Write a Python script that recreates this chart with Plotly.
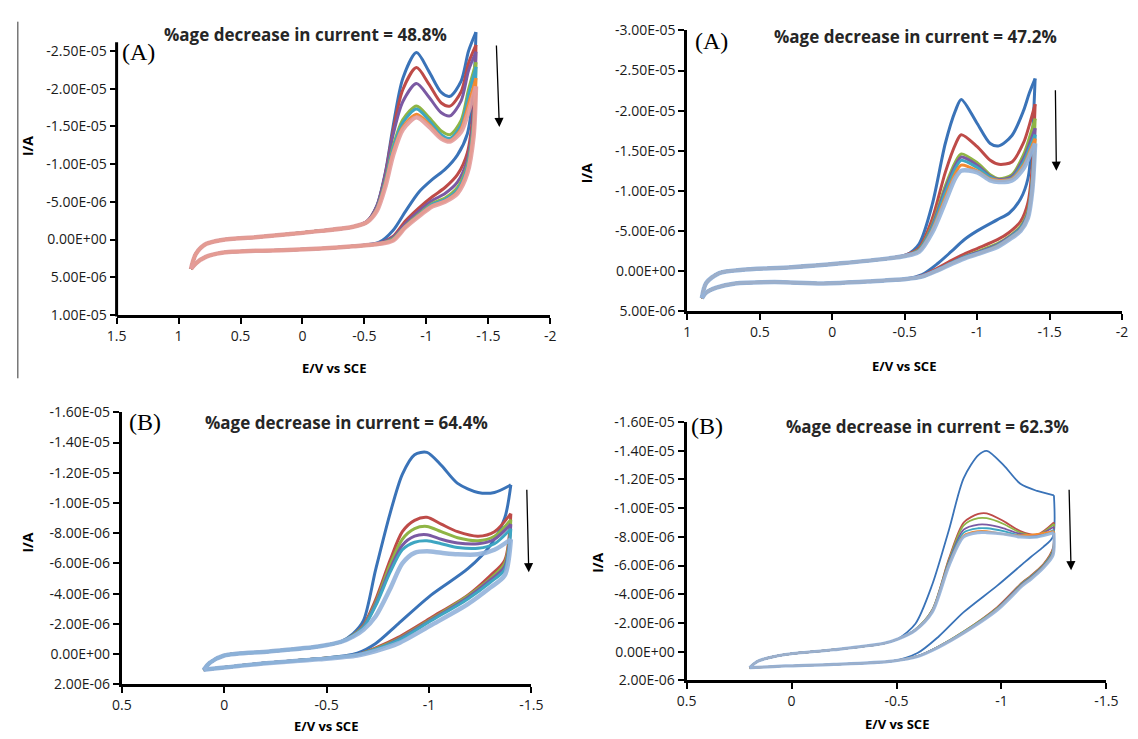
import plotly.graph_objects as go
import numpy as np

W, H = 1138, 739

# ----------------------------- DATA ---------------------------------
# potentials in V, currents in microamperes (negative = cathodic, drawn upward)

# Panel 1 (top-left)  cycles: blue, red, purple, green, aqua, orange, pink
P1_E_UP = [0.90, 0.86, 0.78, 0.65, 0.38, 0.12, -0.15, -0.41, -0.52, -0.60, -0.67, -0.73,
           -0.81, -0.92, -1.02, -1.12, -1.19, -1.28, -1.34, -1.40]
P1_I_UP = [
    [3.9, 1.9, 0.6, 0.05, -0.3, -0.7, -1.15, -1.7, -2.4, -4.5, -9.0, -14.9, -21.4, -24.8, -22.3, -19.5, -19.0, -21.0, -25.0, -27.5],
    [3.9, 1.9, 0.6, 0.05, -0.3, -0.7, -1.15, -1.7, -2.4, -4.4, -8.8, -14.3, -19.9, -22.8, -20.6, -18.1, -17.7, -19.6, -23.4, -25.8],
    [3.9, 1.9, 0.6, 0.05, -0.3, -0.7, -1.15, -1.7, -2.4, -4.4, -8.7, -13.8, -18.3, -20.7, -18.9, -16.8, -16.4, -18.4, -22.4, -24.9],
    [3.9, 1.9, 0.6, 0.05, -0.3, -0.7, -1.15, -1.7, -2.3, -4.1, -7.9, -12.3, -15.9, -17.7, -16.2, -14.4, -13.9, -15.8, -19.9, -23.5],
    [3.9, 1.9, 0.6, 0.05, -0.3, -0.7, -1.15, -1.7, -2.3, -4.0, -7.7, -12.0, -15.5, -17.3, -15.8, -13.9, -13.4, -15.2, -19.2, -22.9],
    [3.9, 1.9, 0.6, 0.05, -0.3, -0.7, -1.15, -1.7, -2.3, -3.9, -7.4, -11.5, -14.9, -16.6, -15.3, -13.5, -13.1, -14.7, -18.0, -21.4],
    [3.9, 1.9, 0.6, 0.05, -0.3, -0.7, -1.15, -1.7, -2.3, -3.8, -7.1, -11.1, -14.6, -16.2, -15.0, -13.4, -13.0, -14.3, -17.0, -20.3],
]
P1_E_DN = [-1.40, -1.38, -1.33, -1.25, -1.15, -1.05, -0.94, -0.83, -0.73, -0.62, -0.41, -0.15,
           0.12, 0.38, 0.65, 0.78, 0.86, 0.90]
P1_I_DN = [
    [-27.5, -20.0, -14.0, -11.2, -9.3, -8.0, -6.3, -3.7, -1.2, 0.35, 0.9, 1.2, 1.4, 1.5, 1.75, 2.3, 3.15, 3.9],
    [-25.8, -17.5, -11.5, -8.6, -6.9, -5.7, -4.2, -2.45, -0.4, 0.5, 0.9, 1.2, 1.4, 1.5, 1.75, 2.3, 3.15, 3.9],
    [-24.9, -16.5, -10.6, -7.6, -6.1, -5.2, -3.8, -2.1, -0.3, 0.5, 0.9, 1.2, 1.4, 1.5, 1.75, 2.3, 3.15, 3.9],
    [-23.5, -15.5, -9.9, -6.9, -5.5, -4.8, -3.4, -1.8, -0.1, 0.55, 0.9, 1.2, 1.4, 1.5, 1.75, 2.3, 3.15, 3.9],
    [-22.9, -15.0, -9.6, -6.6, -5.3, -4.7, -3.3, -1.7, 0.0, 0.55, 0.9, 1.2, 1.4, 1.5, 1.75, 2.3, 3.15, 3.9],
    [-21.4, -14.2, -9.1, -6.3, -5.1, -4.5, -3.2, -1.65, 0.1, 0.57, 0.9, 1.2, 1.4, 1.5, 1.75, 2.3, 3.15, 3.9],
    [-20.3, -13.6, -8.8, -6.1, -5.0, -4.4, -3.1, -1.6, 0.15, 0.57, 0.9, 1.2, 1.4, 1.5, 1.75, 2.3, 3.15, 3.9],
]

# Panel 2 (top-right)  cycles: blue, red, green, purple, aqua, orange, light blue
P2_E_UP = [0.90, 0.87, 0.78, 0.62, 0.28, -0.06, -0.39, -0.51, -0.60, -0.69, -0.78, -0.85,
           -0.89, -1.00, -1.09, -1.15, -1.24, -1.32, -1.36, -1.40]
P2_I_UP = [
    [3.4, 1.5, 0.26, -0.15, -0.47, -0.96, -1.57, -2.0, -3.4, -8.3, -15.9, -20.0, -21.4, -18.4, -15.9, -15.6, -16.9, -20.0, -22.2, -24.0],
    [3.4, 1.5, 0.26, -0.15, -0.47, -0.96, -1.57, -2.0, -2.9, -6.5, -12.3, -15.8, -17.0, -15.5, -13.8, -13.3, -13.6, -16.0, -18.2, -20.8],
    [3.4, 1.5, 0.26, -0.15, -0.47, -0.96, -1.57, -1.95, -2.7, -5.8, -10.6, -13.6, -14.6, -13.5, -12.0, -11.5, -12.0, -14.5, -16.6, -19.0],
    [3.4, 1.5, 0.26, -0.15, -0.47, -0.96, -1.57, -1.95, -2.6, -5.6, -10.2, -13.2, -14.2, -13.2, -11.8, -11.4, -11.8, -14.0, -15.8, -17.8],
    [3.4, 1.5, 0.26, -0.15, -0.47, -0.96, -1.57, -1.9, -2.6, -5.4, -9.8, -12.8, -13.8, -12.9, -11.7, -11.3, -11.6, -13.6, -15.3, -17.0],
    [3.4, 1.5, 0.26, -0.15, -0.47, -0.96, -1.57, -1.9, -2.5, -5.1, -9.2, -12.2, -13.2, -12.5, -11.5, -11.3, -11.5, -13.2, -14.8, -16.5],
    [3.4, 1.5, 0.26, -0.15, -0.47, -0.96, -1.57, -1.9, -2.4, -4.8, -8.6, -11.6, -12.5, -12.3, -11.3, -11.1, -11.3, -12.8, -14.3, -15.9],
]
P2_E_DN = [-1.40, -1.38, -1.35, -1.30, -1.22, -1.14, -1.00, -0.91, -0.82, -0.73, -0.62, -0.51,
           -0.28, 0.06, 0.40, 0.67, 0.80, 0.87, 0.90]
P2_I_DN = [
    [-24.0, -16.5, -11.5, -9.0, -7.2, -6.4, -5.0, -3.9, -2.4, -0.96, 0.46, 0.98, 1.27, 1.55, 1.39, 1.55, 2.08, 2.7, 3.4],
    [-20.8, -13.0, -8.5, -6.2, -4.8, -3.9, -2.8, -2.1, -1.3, -0.4, 0.6, 1.0, 1.27, 1.55, 1.39, 1.55, 2.08, 2.7, 3.4],
    [-19.0, -11.5, -7.5, -5.6, -4.3, -3.4, -2.4, -1.8, -1.0, -0.2, 0.7, 1.0, 1.27, 1.55, 1.39, 1.55, 2.08, 2.7, 3.4],
    [-17.8, -11.0, -7.2, -5.4, -4.2, -3.3, -2.3, -1.75, -1.0, -0.2, 0.7, 1.0, 1.27, 1.55, 1.39, 1.55, 2.08, 2.7, 3.4],
    [-17.0, -10.5, -7.0, -5.3, -4.1, -3.2, -2.2, -1.7, -0.95, -0.15, 0.7, 1.0, 1.27, 1.55, 1.39, 1.55, 2.08, 2.7, 3.4],
    [-16.5, -10.2, -6.8, -5.1, -4.0, -3.1, -2.1, -1.6, -0.9, -0.1, 0.7, 1.0, 1.27, 1.55, 1.39, 1.55, 2.08, 2.7, 3.4],
    [-15.9, -10.0, -6.6, -5.0, -3.9, -3.0, -2.1, -1.55, -0.85, -0.1, 0.7, 1.0, 1.27, 1.55, 1.39, 1.55, 2.08, 2.7, 3.4],
]

# Panel 3 (bottom-left)  cycles: blue, red, green, purple, aqua, light blue
P3_E_UP = [0.10, 0.07, 0.00, -0.22, -0.46, -0.57, -0.63, -0.68, -0.74, -0.81, -0.87, -0.93,
           -0.99, -1.06, -1.14, -1.24, -1.32, -1.40]
P3_I_UP = [
    [1.05, 0.58, 0.1, -0.17, -0.5, -0.82, -1.35, -2.2, -5.6, -9.3, -11.9, -13.2, -13.35, -12.5, -11.3, -10.7, -10.7, -11.2],
    [1.05, 0.58, 0.1, -0.17, -0.5, -0.8, -1.25, -1.9, -3.6, -6.2, -8.1, -8.85, -9.05, -8.6, -8.1, -7.8, -8.1, -9.3],
    [1.05, 0.58, 0.1, -0.17, -0.5, -0.8, -1.25, -1.85, -3.4, -5.9, -7.6, -8.3, -8.45, -8.1, -7.7, -7.5, -7.8, -8.9],
    [1.05, 0.58, 0.1, -0.17, -0.5, -0.8, -1.2, -1.8, -3.3, -5.6, -7.2, -7.8, -7.9, -7.6, -7.35, -7.3, -7.6, -8.6],
    [1.05, 0.58, 0.1, -0.17, -0.5, -0.8, -1.2, -1.75, -3.2, -5.4, -6.9, -7.4, -7.5, -7.3, -7.05, -7.0, -7.3, -8.3],
    [1.05, 0.58, 0.1, -0.17, -0.5, -0.8, -1.15, -1.6, -2.5, -4.3, -6.0, -6.7, -6.8, -6.7, -6.6, -6.6, -6.9, -7.6],
]
P3_E_DN = [-1.40, -1.37, -1.30, -1.19, -1.01, -0.85, -0.74, -0.65, -0.46, -0.22, 0.00, 0.07, 0.10]
P3_I_DN = [
    [-11.2, -9.0, -7.2, -5.65, -3.9, -2.0, -0.7, -0.06, 0.32, 0.58, 0.9, 1.0, 1.05],
    [-9.3, -6.2, -5.2, -3.9, -2.4, -1.1, -0.4, 0.04, 0.32, 0.58, 0.9, 1.0, 1.05],
    [-8.9, -6.0, -5.0, -3.85, -2.3, -1.0, -0.35, 0.05, 0.32, 0.58, 0.9, 1.0, 1.05],
    [-8.6, -5.8, -4.9, -3.75, -2.25, -0.95, -0.3, 0.05, 0.32, 0.58, 0.9, 1.0, 1.05],
    [-8.3, -5.6, -4.75, -3.65, -2.2, -0.9, -0.3, 0.05, 0.32, 0.58, 0.9, 1.0, 1.05],
    [-7.6, -5.2, -4.4, -3.3, -1.9, -0.7, -0.2, 0.1, 0.35, 0.6, 0.9, 1.0, 1.05],
]

# Panel 4 (bottom-right)  cycles: blue, red, green, purple, aqua, orange, light blue
P4_E_UP = [0.20, 0.16, 0.03, -0.20, -0.44, -0.51, -0.59, -0.67, -0.75, -0.82, -0.89, -0.93,
           -1.01, -1.09, -1.17, -1.25]
P4_I_UP = [
    [1.11, 0.66, 0.2, -0.13, -0.58, -0.92, -1.94, -4.66, -8.5, -12.1, -13.7, -14.0, -13.0, -11.7, -11.2, -10.9],
    [1.11, 0.66, 0.2, -0.13, -0.58, -0.9, -1.55, -2.9, -6.5, -9.0, -9.6, -9.64, -9.1, -8.4, -8.15, -9.0],
    [1.11, 0.66, 0.2, -0.13, -0.58, -0.9, -1.55, -2.9, -6.4, -8.8, -9.3, -9.3, -8.9, -8.3, -8.1, -8.9],
    [1.11, 0.66, 0.2, -0.13, -0.58, -0.9, -1.5, -2.85, -6.3, -8.5, -8.85, -8.85, -8.6, -8.2, -8.1, -8.7],
    [1.11, 0.66, 0.2, -0.13, -0.58, -0.9, -1.5, -2.8, -6.2, -8.3, -8.6, -8.6, -8.4, -8.1, -8.0, -8.5],
    [1.11, 0.66, 0.2, -0.13, -0.58, -0.9, -1.5, -2.8, -6.1, -8.1, -8.4, -8.4, -8.2, -8.1, -8.2, -8.4],
    [1.11, 0.66, 0.2, -0.13, -0.58, -0.9, -1.5, -2.75, -6.0, -8.0, -8.3, -8.3, -8.2, -8.0, -8.0, -8.3],
]
P4_E_DN = [-1.25, -1.245, -1.20, -1.14, -1.10, -0.98, -0.82, -0.70, -0.60, -0.48, -0.20, 0.03, 0.17, 0.20]
P4_I_DN = [
    [-10.9, -8.0, -7.3, -6.6, -6.1, -4.6, -2.75, -1.04, 0.1, 0.66, 0.89, 1.0, 1.1, 1.11],
    [-9.0, -7.2, -6.1, -5.3, -4.85, -3.1, -1.4, -0.36, 0.32, 0.66, 0.89, 1.0, 1.1, 1.11],
    [-8.9, -7.1, -6.05, -5.25, -4.8, -3.05, -1.4, -0.36, 0.32, 0.66, 0.89, 1.0, 1.1, 1.11],
    [-8.7, -7.0, -6.0, -5.2, -4.75, -3.0, -1.35, -0.34, 0.32, 0.66, 0.89, 1.0, 1.1, 1.11],
    [-8.5, -6.9, -5.95, -5.15, -4.7, -3.0, -1.35, -0.33, 0.33, 0.66, 0.89, 1.0, 1.1, 1.11],
    [-8.4, -6.8, -5.9, -5.1, -4.65, -2.95, -1.3, -0.32, 0.33, 0.66, 0.89, 1.0, 1.1, 1.11],
    [-8.3, -6.7, -5.85, -5.05, -4.6, -2.9, -1.3, -0.3, 0.34, 0.66, 0.89, 1.0, 1.1, 1.11],
]

# tick values / labels
X_TICKS_A1 = [1.5, 1, 0.5, 0, -0.5, -1, -1.5, -2]
X_TEXT_A1 = ["1.5", "1", "0.5", "0", "-0.5", "-1", "-1.5", "-2"]
X_TICKS_A2 = [1, 0.5, 0, -0.5, -1, -1.5, -2]
X_TEXT_A2 = ["1", "0.5", "0", "-0.5", "-1", "-1.5", "-2"]
X_TICKS_B = [0.5, 0, -0.5, -1, -1.5]
X_TEXT_B = ["0.5", "0", "-0.5", "-1", "-1.5"]
Y_TICKS_A1 = [-25e-6, -20e-6, -15e-6, -10e-6, -5e-6, 0, 5e-6, 10e-6]
Y_TEXT_A1 = ["-2.50E-05", "-2.00E-05", "-1.50E-05", "-1.00E-05", "-5.00E-06", "0.00E+00", "5.00E-06", "1.00E-05"]
Y_TICKS_A2 = [-30e-6, -25e-6, -20e-6, -15e-6, -10e-6, -5e-6, 0, 5e-6]
Y_TEXT_A2 = ["-3.00E-05", "-2.50E-05", "-2.00E-05", "-1.50E-05", "-1.00E-05", "-5.00E-06", "0.00E+00", "5.00E-06"]
Y_TICKS_B = [-16e-6, -14e-6, -12e-6, -10e-6, -8e-6, -6e-6, -4e-6, -2e-6, 0, 2e-6]
Y_TEXT_B = ["-1.60E-05", "-1.40E-05", "-1.20E-05", "-1.00E-05", "-8.00E-06", "-6.00E-06",
            "-4.00E-06", "-2.00E-06", "0.00E+00", "2.00E-06"]

TITLES = ["%age decrease in current = 48.8%", "%age decrease in current = 47.2%",
          "%age decrease in current = 64.4%", "%age decrease in current = 62.3%"]
TAGS = ["(A)", "(A)", "(B)", "(B)"]
X_TITLE = "E/V vs SCE"
Y_TITLE = "I/A"

# ----------------------------- STYLE --------------------------------
BLUE, RED, GREEN, PURPLE = "#3A73B8", "#BE4B48", "#8FB545", "#7B5AA3"
AQUA, ORANGE, PINK, LBLUE = "#3EA6C2", "#F28B32", "#E39C9C", "#93B2DA"
COLORS = [
    [BLUE, RED, PURPLE, GREEN, AQUA, ORANGE, PINK],
    [BLUE, RED, GREEN, PURPLE, AQUA, ORANGE, LBLUE],
    [BLUE, RED, GREEN, PURPLE, AQUA, LBLUE],
    [BLUE, RED, GREEN, PURPLE, AQUA, ORANGE, LBLUE],
]
WIDTHS = [(3.0, 4.5), (3.0, 4.5), (3.0, 4.5), (1.8, 3.2)]

# panel geometry in pixels: (x_left, x_right, y_top, y_bottom), axis ranges (x, y in A)
GEOM = [
    dict(px=(108.7, 551.0, 15.0, 313.0), xr=[1.5, -2.0], yr=[10e-6, -28.5e-6]),
    dict(px=(690.7, 1134.0, 21.0, 309.0), xr=[1.0, -2.0], yr=[5e-6, -30e-6]),
    dict(px=(114.0, 531.6, 413.0, 692.0), xr=[0.5, -1.5], yr=[2e-6, -16e-6]),
    dict(px=(690.0, 1118.0, 423.0, 688.0), xr=[0.5, -1.5], yr=[2e-6, -16e-6]),
]
XTICKS = [(X_TICKS_A1, X_TEXT_A1), (X_TICKS_A2, X_TEXT_A2), (X_TICKS_B, X_TEXT_B), (X_TICKS_B, X_TEXT_B)]
YTICKS = [(Y_TICKS_A1, Y_TEXT_A1), (Y_TICKS_A2, Y_TEXT_A2), (Y_TICKS_B, Y_TEXT_B), (Y_TICKS_B, Y_TEXT_B)]

# text positions (pixels): tag, title, y-title, x-title, arrow tail, arrow head
TEXTPOS = [
    dict(tag=(131, 43), title=(301, 25), yt=(18, 140), xt=(330, 367), tail=(496, 37), head=(499, 120)),
    dict(tag=(715, 32), title=(923, 27), yt=(588, 168), xt=(912, 365), tail=(1066, 83), head=(1067, 165)),
    dict(tag=(138, 423), title=(343, 423), yt=(18, 547), xt=(322, 735), tail=(527, 493), head=(529, 577)),
    dict(tag=(711, 427), title=(936, 427), yt=(599, 567), xt=(904, 733), tail=(1080, 493), head=(1082, 575)),
]

PANELS = [
    (P1_E_UP, P1_I_UP, P1_E_DN, P1_I_DN),
    (P2_E_UP, P2_I_UP, P2_E_DN, P2_I_DN),
    (P3_E_UP, P3_I_UP, P3_E_DN, P3_I_DN),
    (P4_E_UP, P4_I_UP, P4_E_DN, P4_I_DN),
]

fig = go.Figure()


def px2paper_x(x):
    return x / W


def px2paper_y(y):
    return 1 - y / H


TICKFONT = dict(family="Open Sans", size=14, color="#1a1a1a")

for k, (eu, iu, ed, idn) in enumerate(PANELS):
    suffix = "" if k == 0 else str(k + 1)
    xa, ya = "x" + suffix, "y" + suffix
    n = len(iu)
    for c in range(n):
        last = c == n - 1
        w = WIDTHS[k][1] if last else WIDTHS[k][0]
        col = COLORS[k][c]
        for E, I in ((eu, iu[c]), (ed, idn[c])):
            fig.add_trace(go.Scatter(
                x=E, y=np.array(I) * 1e-6, mode="lines", xaxis=xa, yaxis=ya,
                line=dict(color=col, width=w, shape="spline", smoothing=0.8),
                opacity=0.9 if last else 1.0, showlegend=False, hoverinfo="skip"))

    g = GEOM[k]
    xl, xr, yt, yb = g["px"]
    xkey = "xaxis" + suffix
    ykey = "yaxis" + suffix
    fig.layout[xkey] = dict(
        domain=[px2paper_x(xl), px2paper_x(xr)], range=g["xr"], anchor=ya,
        tickvals=XTICKS[k][0], ticktext=XTICKS[k][1], tickfont=TICKFONT,
        showgrid=False, zeroline=False, showline=True, linecolor="black", linewidth=3,
        ticks="outside", ticklen=6, tickwidth=2, tickcolor="black")
    fig.layout[ykey] = dict(
        domain=[px2paper_y(yb), px2paper_y(yt)], range=g["yr"], anchor=xa,
        tickvals=YTICKS[k][0], ticktext=YTICKS[k][1], tickfont=TICKFONT,
        showgrid=False, zeroline=False, showline=(k != 0), linecolor="black", linewidth=3,
        ticks="outside", ticklen=6, tickwidth=2, tickcolor="black")

    t = TEXTPOS[k]
    fig.add_annotation(x=px2paper_x(t["tag"][0]), y=px2paper_y(t["tag"][1]), xref="paper", yref="paper",
                       text=TAGS[k], showarrow=False, xanchor="center", yanchor="middle",
                       font=dict(family="Liberation Serif", size=24, color="black"))
    fig.add_annotation(x=px2paper_x(t["title"][0]), y=px2paper_y(t["title"][1]), xref="paper", yref="paper",
                       text="<b>" + TITLES[k] + "</b>", showarrow=False, xanchor="center", yanchor="middle",
                       font=dict(family="Open Sans", size=17, color="#262626"))
    fig.add_annotation(x=px2paper_x(t["yt"][0]), y=px2paper_y(t["yt"][1]), xref="paper", yref="paper",
                       text="<b>" + Y_TITLE + "</b>", showarrow=False, textangle=-90,
                       xanchor="center", yanchor="middle",
                       font=dict(family="Open Sans", size=14, color="black"))
    fig.add_annotation(x=px2paper_x(t["xt"][0]), y=px2paper_y(t["xt"][1]), xref="paper", yref="paper",
                       text="<b>" + X_TITLE + "</b>", showarrow=False, xanchor="center", yanchor="middle",
                       font=dict(family="Open Sans", size=13, color="black"))
    hx, hy = t["head"]
    tx, ty = t["tail"]
    fig.add_annotation(x=px2paper_x(hx), y=px2paper_y(hy), xref="paper", yref="paper",
                       ax=tx - hx, ay=ty - hy, text="", showarrow=True,
                       arrowhead=2, arrowsize=1.4, arrowwidth=1.3, arrowcolor="black")

# y-axis line of panel 1 (shorter than its plotting range so curves can rise above it)
fig.add_shape(type="line", xref="paper", yref="paper",
              x0=px2paper_x(108.7), x1=px2paper_x(108.7), y0=px2paper_y(314.5), y1=px2paper_y(33.0),
              line=dict(color="black", width=3))
# thin vertical separator at the left edge of panel 1
fig.add_shape(type="line", xref="paper", yref="paper",
              x0=px2paper_x(8), x1=px2paper_x(8), y0=px2paper_y(12), y1=px2paper_y(378),
              line=dict(color="#333333", width=1))

fig.update_layout(width=W, height=H, margin=dict(l=0, r=0, t=0, b=0),
                  paper_bgcolor="white", plot_bgcolor="white", showlegend=False)

fig.write_html("out.html", config={"displayModeBar": False, "staticPlot": True},
               post_script="document.body.style.margin='0px';document.body.style.overflow='hidden';")
